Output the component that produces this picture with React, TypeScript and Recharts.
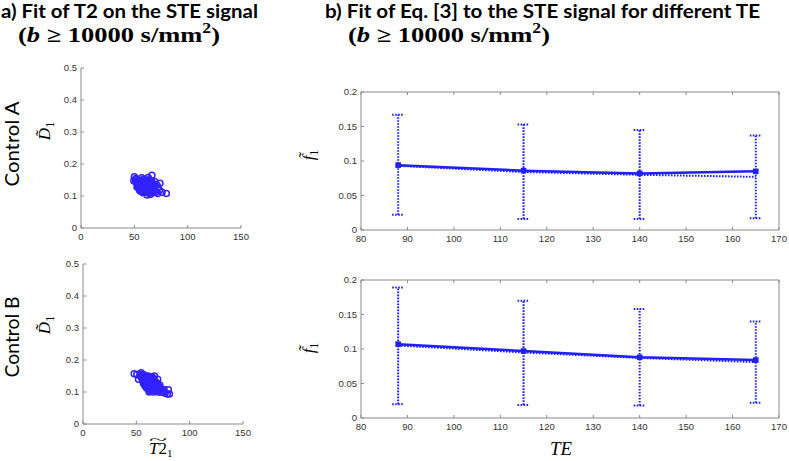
import React from 'react';
import { ScatterChart, Scatter, XAxis, YAxis, ComposedChart, Line, ErrorBar } from 'recharts';

// ---- scatter data: [T2, D] ----
const controlA: number[][] = [
  [52, 0.151], [55, 0.149], [58.5, 0.152], [61, 0.15], [64, 0.151],
  [51, 0.145], [54, 0.146], [57, 0.144], [60, 0.146], [63, 0.145], [66, 0.146],
  [52.5, 0.14], [54.5, 0.141], [57, 0.139], [59.5, 0.141], [62, 0.14], [64.5, 0.139], [67, 0.141],
  [53, 0.135], [55.5, 0.136], [58, 0.134], [60.5, 0.135], [63, 0.136], [65.5, 0.134], [68, 0.135],
  [53.5, 0.13], [56, 0.129], [58.5, 0.131], [61, 0.13], [63.5, 0.129], [66, 0.131], [68.5, 0.13],
  [54, 0.125], [56.5, 0.126], [59, 0.124], [61.5, 0.125], [64, 0.126], [66.5, 0.124], [69, 0.125],
  [55, 0.12], [57.5, 0.121], [60, 0.119], [62.5, 0.12], [65, 0.121], [67.5, 0.119],
  [56, 0.115], [58.5, 0.116], [61, 0.114], [63.5, 0.115], [66, 0.116], [68.5, 0.114],
  [58, 0.11], [61, 0.111], [64, 0.109], [67, 0.11],
  [53.5, 0.1475], [56.5, 0.148], [59.5, 0.147], [62.5, 0.148], [65, 0.147],
  [53, 0.1425], [55.5, 0.143], [58, 0.142], [60.5, 0.143], [63, 0.142], [65.5, 0.143],
  [54, 0.1375], [56.5, 0.138], [59, 0.137], [61.5, 0.138], [64, 0.137], [66.5, 0.138],
  [55, 0.1325], [57.5, 0.133], [60, 0.132], [62.5, 0.133], [65, 0.132], [67, 0.133],
  [55, 0.1275], [57.5, 0.128], [60, 0.127], [62.5, 0.128], [65, 0.127], [67.5, 0.128],
  [55.5, 0.1225], [58, 0.123], [60.5, 0.122], [63, 0.123], [65.5, 0.122], [68, 0.123],
  [56.5, 0.1175], [59, 0.118], [61.5, 0.117], [64, 0.118], [66.5, 0.117],
  [59.5, 0.1125], [62.5, 0.113], [65.5, 0.112],
  [50, 0.16], [51.5, 0.155], [49.5, 0.148], [66.5, 0.165], [63, 0.158], [57, 0.157],
  [74, 0.14], [72, 0.128], [73.5, 0.118], [80, 0.108], [76, 0.112], [72, 0.108],
  [70, 0.112], [62, 0.103], [65, 0.105], [55, 0.117], [52.5, 0.128], [69, 0.145], [71, 0.135],
];
const controlB: number[][] = [
  [54, 0.155], [57, 0.154],
  [53.5, 0.15], [56, 0.151], [58.5, 0.149], [61, 0.15],
  [55, 0.145], [57.5, 0.146], [60, 0.144], [62.5, 0.145], [65, 0.146],
  [55.5, 0.14], [58, 0.141], [60.5, 0.139], [63, 0.14], [65.5, 0.141],
  [56, 0.135], [58.5, 0.134], [61, 0.136], [63.5, 0.135], [66, 0.134],
  [56.5, 0.13], [59, 0.131], [61.5, 0.129], [64, 0.13], [66.5, 0.131], [69, 0.129],
  [57, 0.125], [59.5, 0.124], [62, 0.126], [64.5, 0.125], [67, 0.124], [69.5, 0.126],
  [58, 0.12], [60.5, 0.121], [63, 0.119], [65.5, 0.12], [68, 0.121], [70.5, 0.119],
  [59, 0.115], [61.5, 0.114], [64, 0.116], [66.5, 0.115], [69, 0.114], [71.5, 0.116],
  [60.5, 0.11], [63, 0.111], [65.5, 0.109], [68, 0.11], [70.5, 0.111], [73, 0.109],
  [62, 0.105], [65, 0.106], [68, 0.104], [71, 0.105], [74, 0.106],
  [66, 0.1], [69, 0.101], [72, 0.099],
  [55, 0.1475], [57.5, 0.148], [60, 0.147], [62.5, 0.148],
  [56, 0.1425], [58.5, 0.143], [61, 0.142], [63.5, 0.143], [65.5, 0.142],
  [57, 0.1375], [59.5, 0.138], [62, 0.137], [64.5, 0.138], [66.5, 0.137],
  [57.5, 0.1325], [60, 0.133], [62.5, 0.132], [65, 0.133], [67.5, 0.132],
  [58, 0.1275], [60.5, 0.128], [63, 0.127], [65.5, 0.128], [68, 0.127],
  [59, 0.1225], [61.5, 0.123], [64, 0.122], [66.5, 0.123], [69, 0.122],
  [60, 0.1175], [62.5, 0.118], [65, 0.117], [67.5, 0.118], [70, 0.117],
  [61.5, 0.1125], [64, 0.113], [66.5, 0.112], [69, 0.113], [71.5, 0.112],
  [63.5, 0.1075], [66.5, 0.108], [69.5, 0.107], [72, 0.108],
  [48, 0.157], [50.5, 0.155], [54.5, 0.16], [80, 0.107], [79, 0.094], [81, 0.094],
  [77, 0.096], [75, 0.1], [76, 0.108], [62, 0.1], [52, 0.14], [72, 0.122], [70, 0.14], [67, 0.15],
];

// ---- TE fits ----
const TE = [88, 115, 140, 165];
const aSolid = [0.094, 0.086, 0.082, 0.085];
const aDotted = [0.093, 0.084, 0.08, 0.077];
const aLow = [0.022, 0.016, 0.016, 0.017];
const aHigh = [0.167, 0.153, 0.145, 0.137];
const bSolid = [0.107, 0.097, 0.088, 0.084];
const bDotted = [0.105, 0.095, 0.087, 0.081];
const bLow = [0.02, 0.019, 0.018, 0.022];
const bHigh = [0.189, 0.17, 0.158, 0.14];

const scatterXTicks = [0, 50, 100, 150];
const scatterYTicks = [0, 0.1, 0.2, 0.3, 0.4, 0.5];
const teTicks = [80, 90, 100, 110, 120, 130, 140, 150, 160, 170];
const fTicks = [0, 0.05, 0.1, 0.15, 0.2];

const BLUE = '#1f1fff';
const AXIS = '#8a8a8a';
const tickStyle = { fontSize: 9.5, fill: '#333', fontFamily: 'Liberation Sans, Arial, sans-serif' };

const toPts = (arr: number[][]) => arr.map(([x, y]) => ({ x, y }));
const buildTE = (solid: number[], dotted: number[], low: number[], high: number[]) =>
  TE.map((t, i) => ({ te: t, solid: solid[i], dotted: dotted[i], err: [dotted[i] - low[i], high[i] - dotted[i]] }));

const Circle = (p: any) => (
  <circle cx={p.cx} cy={p.cy} r={3} fill="none" stroke="#3322ff" strokeWidth={1.5} />
);
const Square = (p: any) => (
  <rect key={`sq-${p.index}`} x={p.cx - 2.8} y={p.cy - 2.8} width={5.6} height={5.6} fill={BLUE} />
);

function ScatterPanel({ data, left, top, height, margin }: any) {
  return (
    <div style={{ position: 'absolute', left, top }}>
      <ScatterChart width={260} height={height} margin={margin}>
        <XAxis dataKey="x" type="number" domain={[0, 150]} ticks={scatterXTicks} height={20}
          stroke={AXIS} tick={tickStyle} tickSize={-3} tickMargin={8} interval={0} />
        <YAxis dataKey="y" type="number" domain={[0, 0.5]} ticks={scatterYTicks} width={30}
          stroke={AXIS} tick={tickStyle} tickSize={-3} tickMargin={7} interval={0} />
        <Scatter data={toPts(data)} shape={Circle} isAnimationActive={false} />
      </ScatterChart>
    </div>
  );
}

function TEPanel({ data, top, height, margin }: any) {
  return (
    <div style={{ position: 'absolute', left: 290, top }}>
      <ComposedChart width={499} height={height} data={data} margin={margin}>
        <XAxis dataKey="te" type="number" domain={[80, 170]} ticks={teTicks} height={20}
          stroke={AXIS} tick={tickStyle} tickSize={-3} tickMargin={8} interval={0} />
        <XAxis xAxisId="top" orientation="top" dataKey="te" type="number" domain={[80, 170]} ticks={teTicks}
          height={2} stroke={AXIS} tickSize={-3} tickFormatter={() => ''} interval={0} />
        <YAxis type="number" domain={[0, 0.2]} ticks={fTicks} width={30}
          stroke={AXIS} tick={tickStyle} tickSize={-3} tickMargin={7} interval={0} />
        <YAxis yAxisId="r" orientation="right" type="number" domain={[0, 0.2]} ticks={fTicks} width={2}
          stroke={AXIS} tickSize={-3} tickFormatter={() => ''} interval={0} />
        <Line dataKey="dotted" stroke={BLUE} strokeWidth={2} strokeDasharray="1.6 1.4" dot={false}
          isAnimationActive={false}>
          <ErrorBar dataKey="err" width={6} stroke={BLUE} strokeWidth={2} strokeDasharray="1.6 1.4"
            direction="y" isAnimationActive={false} />
        </Line>
        <Line dataKey="solid" stroke={BLUE} strokeWidth={2.5} dot={Square} isAnimationActive={false} />
      </ComposedChart>
    </div>
  );
}

const titleFont = 'Lato, "Open Sans", sans-serif';
const mathFont = '"Liberation Serif", "DejaVu Serif", serif';

export default function App() {
  return (
    <div style={{ position: 'absolute', left: 0, top: 0, width: 789, height: 461, background: '#fff', overflow: 'hidden' }}>
      <ScatterPanel data={controlA} left={0} top={50} height={200}
        margin={{ top: 18, right: 19, bottom: 2, left: 51 }} />
      <ScatterPanel data={controlB} left={0} top={250} height={211}
        margin={{ top: 14, right: 17, bottom: 17, left: 53 }} />
      <TEPanel data={buildTE(aSolid, aDotted, aLow, aHigh)} top={70} height={190}
        margin={{ top: 20, right: 8, bottom: 10, left: 41 }} />
      <TEPanel data={buildTE(bSolid, bDotted, bLow, bHigh)} top={250} height={211}
        margin={{ top: 28, right: 8, bottom: 23, left: 41 }} />
      <svg width={789} height={461} style={{ position: 'absolute', left: 0, top: 0, pointerEvents: 'none' }}>
        <text x={1} y={18} fontFamily={titleFont} fontWeight={700} fontSize={19.5} textLength={257} lengthAdjust="spacingAndGlyphs">a) Fit of T2 on the STE signal</text>
        <text x={18} y={42} fontFamily={mathFont} fontWeight={700} fontSize={21} textLength={202} lengthAdjust="spacingAndGlyphs">
          (<tspan fontStyle="italic">b</tspan> ≥ 10000 s/mm<tspan fontSize={14} dy={-9}>2</tspan><tspan dy={9}>)</tspan>
        </text>
        <text x={325} y={18} fontFamily={titleFont} fontWeight={700} fontSize={19.5} textLength={435} lengthAdjust="spacingAndGlyphs">b) Fit of Eq. [3] to the STE signal for different TE</text>
        <text x={348} y={42} fontFamily={mathFont} fontWeight={700} fontSize={21} textLength={202} lengthAdjust="spacingAndGlyphs">
          (<tspan fontStyle="italic">b</tspan> ≥ 10000 s/mm<tspan fontSize={14} dy={-9}>2</tspan><tspan dy={9}>)</tspan>
        </text>

        <text transform="translate(19,144) rotate(-90)" textAnchor="middle" fontFamily={titleFont} fontSize={20} textLength={85} lengthAdjust="spacingAndGlyphs">Control A</text>
        <text transform="translate(19,337) rotate(-90)" textAnchor="middle" fontFamily={titleFont} fontSize={20} textLength={81} lengthAdjust="spacingAndGlyphs">Control B</text>

        <text transform="translate(50,131) rotate(-90)" textAnchor="middle" fontFamily={mathFont} fontStyle="italic" fontSize={17}>
          D̃<tspan fontSize={12} dy={4} fontStyle="normal">1</tspan>
        </text>
        <text transform="translate(50,325) rotate(-90)" textAnchor="middle" fontFamily={mathFont} fontStyle="italic" fontSize={17}>
          D̃<tspan fontSize={12} dy={4} fontStyle="normal">1</tspan>
        </text>

        <text transform="translate(314,155) rotate(-90)" textAnchor="middle" fontFamily={mathFont} fontStyle="italic" fontSize={17}>
          f̃<tspan fontSize={12} dy={4} fontStyle="normal">1</tspan>
        </text>
        <text transform="translate(314,348) rotate(-90)" textAnchor="middle" fontFamily={mathFont} fontStyle="italic" fontSize={17}>
          f̃<tspan fontSize={12} dy={4} fontStyle="normal">1</tspan>
        </text>

        <text x={149} y={454} fontFamily={mathFont} fontSize={17}>
          <tspan fontStyle="italic">T</tspan>2<tspan fontSize={11} dy={3}>1</tspan>
        </text>
        <text x={149} y={444} fontFamily={mathFont} fontSize={13} textLength={18} lengthAdjust="spacingAndGlyphs">~</text>

        <text x={550} y={455} fontFamily={mathFont} fontStyle="italic" fontSize={18} textLength={22} lengthAdjust="spacingAndGlyphs">TE</text>
      </svg>
    </div>
  );
}
